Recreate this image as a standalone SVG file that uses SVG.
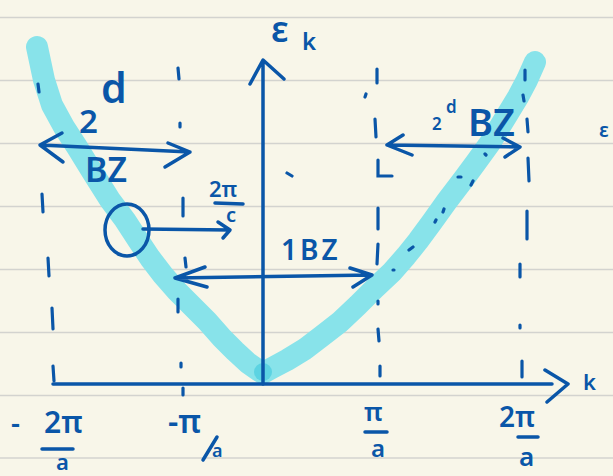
<svg xmlns="http://www.w3.org/2000/svg" width="613" height="476" viewBox="0 0 613 476">
<style>
.rule{stroke:#d3d3cf;stroke-width:1.6;fill:none}
.band{stroke:#88e3ea;stroke-width:22;fill:none;stroke-linecap:round;stroke-linejoin:round}
.ink{stroke:#0a56a8;stroke-width:3.5;fill:none;stroke-linecap:round;stroke-linejoin:round}
.dash{stroke:#0a56a8;stroke-width:3.2;fill:none;stroke-linecap:round}
.t{fill:#0a56a8;font-family:"Noto Sans","DejaVu Sans",sans-serif;font-weight:600}
</style>
<rect width="613" height="476" fill="#f8f6e9"/>
<g id="paper">
<path class="rule" d="M0,17.5H613M0,80.5H613M0,143.5H613M0,206.5H613M0,269.5H613M0,332.5H613M0,395.5H613M0,458H613"/>
</g>
<g id="band-curve">
<polyline class="band" points="37,47 44,80 52,105 64,127 77,147 93,173 110,200 125,220 138,240 150,258 163,275 177,291 192,306 207,321 222,338 235,351 248,363 258,370 263,373 272,368 287,360 305,349 322,336 340,322 358,305 375,288 392,272 406,256 418,241 432,222 447,201 463,180 477,161 490,143 504,120 518,97 527,80 535,62"/>
<circle cx="263" cy="372" r="9" fill="#5cd3e2"/>
</g>
<g id="zone-lines">
<path class="dash" d="M38,84L39,92M42,194L43,212M48,258L49,276M52,308L53,329M53,366L54,381"/>
<path class="dash" d="M178,68L179,79M180,123L180,127M183,198L183,216M185,258L186,267M178,299L178,312M181,363L181,367M183,388L183,395"/>
<path class="dash" d="M377,69L377,83M366,94L365,97M375,119L376,137M378,160L378,176L392,176M378,208L378,229M378,244L377,264M378,301L378,304M378,329L379,341M380,366L380,376"/>
<path class="dash" d="M525,70L525,80M523,95L524,101M527,119L528,132M528,158L529,181M527,211L527,239M520,264L520,277M520,325L520,328M522,361L522,377"/>
<path class="dash" d="M485,154L486,155M458,177L461,177M473,181L471,185M444,209L443,212M436,220L435,222M393,270L394,270M409,250L413,247M287,173L292,176"/>
</g>
<g id="axes">
<path class="ink" d="M263,61L263,384M250,84L263,60L284,79"/>
<path class="ink" d="M53,384L552,384M545,370L568,384L547,402"/>
<text class="t" x="271" y="42" font-size="36">ε</text>
<text class="t" x="302" y="50" font-size="24">k</text>
<text class="t" x="583" y="390" font-size="22">k</text>
</g>
<g id="arrow-2d-left">
<path class="ink" d="M40,145L190,152M62,133L40,145L63,162M168,143L190,152L165,167"/>
<text class="t" x="79" y="133" font-size="33">2</text>
<text class="t" x="101" y="103" font-size="41">d</text>
<text class="t" x="85" y="182" font-size="34">BZ</text>
</g>
<g id="circle-note">
<ellipse class="ink" cx="127" cy="230" rx="22" ry="26"/>
<path class="ink" d="M143,229L230,230M218,222L230,230L223,238"/>
<text class="t" x="209" y="197" font-size="22" font-weight="700">2π</text>
<path class="ink" d="M215,203L243,204"/>
<text class="t" x="226" y="222" font-size="20">c</text>
</g>
<g id="arrow-1bz">
<path class="ink" d="M175,278L372,275M205,267L175,278L207,287M350,268L372,275L353,287"/>
<text class="t" x="281" y="260" font-size="28" letter-spacing="3">1BZ</text>
</g>
<g id="arrow-2d-right">
<path class="ink" d="M387,145L520,147M403,135L387,145L412,155M503,138L520,147L505,157"/>
<text class="t" x="432" y="130" font-size="17">2</text>
<text class="t" x="446" y="113" font-size="17">d</text>
<text class="t" x="468" y="136" font-size="38">BZ</text>
<text class="t" x="599" y="137" font-size="20">ε</text>
</g>
<g id="tick-labels">
<text class="t" x="11" y="433" font-size="28">-</text>
<text class="t" x="44" y="433" font-size="30" font-weight="700">2π</text>
<path class="ink" d="M42,449L73,449"/>
<text class="t" x="56" y="470" font-size="22">a</text>
<text class="t" x="168" y="433" font-size="32">-π</text>
<path class="ink" d="M203,460L217,437"/>
<text class="t" x="212" y="457" font-size="18">a</text>
<text class="t" x="364" y="421" font-size="26">π</text>
<path class="ink" d="M365,432L387,432"/>
<text class="t" x="371" y="457" font-size="24">a</text>
<text class="t" x="499" y="427" font-size="28">2π</text>
<path class="ink" d="M518,437L538,437"/>
<text class="t" x="519" y="466" font-size="26">a</text>
</g>
</svg>
